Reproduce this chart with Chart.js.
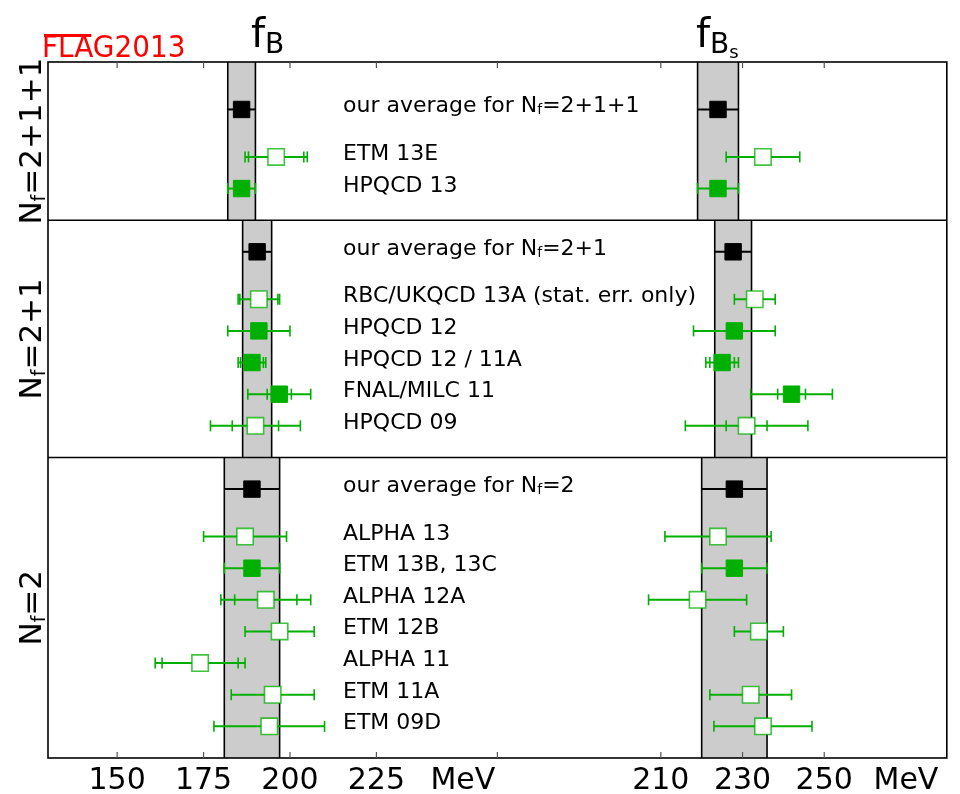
<!DOCTYPE html>
<html>
<head>
<meta charset="utf-8">
<script src="https://cdn.jsdelivr.net/npm/chart.js@4.4.1/dist/chart.umd.min.js"></script>
<style>
  html, body { margin: 0; padding: 0; background: #fff; }
  #wrap { width: 960px; height: 794px; }
</style>
</head>
<body>
<div id="wrap"><canvas id="flag" width="960" height="794"></canvas></div>
<script>
// one entry per row, top to bottom
const rowLabels = [
  "our average for N_f=2+1+1", "ETM 13E", "HPQCD 13",
  "our average for N_f=2+1", "RBC/UKQCD 13A (stat. err. only)", "HPQCD 12", "HPQCD 12 / 11A", "FNAL/MILC 11", "HPQCD 09",
  "our average for N_f=2", "ALPHA 13", "ETM 13B, 13C", "ALPHA 12A", "ETM 12B", "ALPHA 11", "ETM 11A", "ETM 09D"
];
const rowPos = [1.5, 3, 4, 6, 7.5, 8.5, 9.5, 10.5, 11.5, 13.5, 15, 16, 17, 18, 19, 20, 21];
const rowKind = ["avg", "open", "filled", "avg", "open", "filled", "filled", "filled", "open",
  "avg", "open", "filled", "open", "open", "open", "open", "open"];

// f_B in MeV: central value, inner (stat) and outer (total) error
const fB =      [186, 196, 186, 190.5, 191, 191, 189, 196.9, 190, 189, 187, 189, 193, 197, 174, 195, 194];
const fBStat =  [4,   8,   4,   4.2,   5.5, 9,   3.3, 3.5,   6.7, 8,   12,  8,   9,   10,  11,  12,  16];
const fBTotal = [4,   9,   4,   4.2,   6,   9,   4,   9.1,   13,  8,   12,  8,   13,  10,  13,  12,  16];

// f_Bs in MeV
const fBs =      [224, 235, 224, 227.7, 233, 228, 225, 242, 231, 228, 224, 228, 219, 234, null, 232, 235];
const fBsStat =  [5,   9,   5,   4.5,   5,   10,  3,   3.4, 5,   8,   13,  8,   12,  6,   null, 10,  12];
const fBsTotal = [5,   9,   5,   4.5,   5,   10,  4,   10,  15,  8,   13,  8,   12,  6,   null, 10,  12];

const sectionEdges = [0, 5, 12.5, 22];
const sectionNf = ["2+1+1", "2+1", "2"];

const fBTicks = [150, 175, 200, 225];
const fBsTicks = [210, 230, 250];
const fBRange = [130, 260];
const fBsRange = [170, 280];
const fBUnitAt = 250;
const fBsUnitAt = 270;

const GREEN = "#00b000";
const FONT = "DejaVu Sans";

const panels = [
  { axis: "xB", val: fB, stat: fBStat, tot: fBTotal },
  { axis: "xBs", val: fBs, stat: fBsStat, tot: fBsTotal },
];

function pointsFor(vals, kind) {
  const out = [];
  rowPos.forEach((p, i) => {
    if (rowKind[i] === kind && vals[i] != null) out.push({ x: vals[i], y: p });
  });
  return out;
}

function pointSet(axis, vals, kind) {
  const look = {
    avg: { bg: "#000", border: "#000", bw: 1 },
    filled: { bg: GREEN, border: GREEN, bw: 1 },
    open: { bg: "#fff", border: "rgba(0,176,0,0.75)", bw: 1.6 },
  }[kind];
  return {
    data: pointsFor(vals, kind),
    xAxisID: axis,
    yAxisID: "y",
    pointStyle: "rect",
    pointRadius: 11.6,
    pointBackgroundColor: look.bg,
    pointBorderColor: look.border,
    pointBorderWidth: look.bw,
  };
}

// text made of pieces {t, size, dy}, y is the main baseline
function richWidth(ctx, pieces, family) {
  let w = 0;
  pieces.forEach((p) => {
    ctx.font = p.size + "px '" + (p.family || family) + "'";
    w += ctx.measureText(p.t).width;
  });
  return w;
}
function drawRich(ctx, pieces, x, y, family) {
  ctx.textAlign = "left";
  ctx.textBaseline = "alphabetic";
  pieces.forEach((p) => {
    ctx.font = p.size + "px '" + (p.family || family) + "'";
    ctx.fillText(p.t, x, y + (p.dy || 0));
    x += ctx.measureText(p.t).width;
  });
}
function nfPieces(prefix, rest, size, subSize, subDy) {
  return [
    { t: prefix + "N", size: size },
    { t: "f", size: subSize, dy: subDy },
    { t: "=" + rest, size: size },
  ];
}

function sectionOf(pos) {
  for (let s = 0; s < sectionEdges.length - 1; s++) {
    if (pos > sectionEdges[s] && pos < sectionEdges[s + 1]) return s;
  }
  return 0;
}

function hline(ctx, x0, x1, y) {
  ctx.beginPath(); ctx.moveTo(x0, y); ctx.lineTo(x1, y); ctx.stroke();
}
function vline(ctx, x, y0, y1) {
  ctx.beginPath(); ctx.moveTo(x, y0); ctx.lineTo(x, y1); ctx.stroke();
}

const flagDecor = {
  id: "flagDecor",
  beforeDatasetsDraw(chart) {
    const { ctx, scales } = chart;
    const y = scales.y;
    ctx.save();
    // grey bands of the averages
    panels.forEach((p) => {
      const sx = scales[p.axis];
      rowKind.forEach((k, i) => {
        if (k !== "avg") return;
        const s = sectionOf(rowPos[i]);
        const x0 = sx.getPixelForValue(p.val[i] - p.tot[i]);
        const x1 = sx.getPixelForValue(p.val[i] + p.tot[i]);
        const y0 = y.getPixelForValue(sectionEdges[s]);
        const y1 = y.getPixelForValue(sectionEdges[s + 1]);
        ctx.fillStyle = "#cccccc";
        ctx.fillRect(x0, y0, x1 - x0, y1 - y0);
        ctx.strokeStyle = "#000";
        ctx.lineWidth = 1.6;
        vline(ctx, x0, y0, y1);
        vline(ctx, x1, y0, y1);
      });
    });
    // error bars
    panels.forEach((p) => {
      const sx = scales[p.axis];
      rowPos.forEach((pos, i) => {
        if (p.val[i] == null) return;
        const yy = y.getPixelForValue(pos);
        const v = p.val[i];
        const lo = sx.getPixelForValue(v - p.tot[i]);
        const hi = sx.getPixelForValue(v + p.tot[i]);
        if (rowKind[i] === "avg") {
          ctx.strokeStyle = "#000";
          ctx.lineWidth = 2;
          hline(ctx, lo, hi, yy);
          return;
        }
        ctx.strokeStyle = GREEN;
        ctx.lineWidth = 2;
        hline(ctx, lo, hi, yy);
        ctx.lineWidth = 1.6;
        vline(ctx, lo, yy - 5.5, yy + 5.5);
        vline(ctx, hi, yy - 5.5, yy + 5.5);
        if (Math.abs(p.tot[i] - p.stat[i]) > 0.2) {
          vline(ctx, sx.getPixelForValue(v - p.stat[i]), yy - 5.5, yy + 5.5);
          vline(ctx, sx.getPixelForValue(v + p.stat[i]), yy - 5.5, yy + 5.5);
        }
      });
    });
    ctx.restore();
  },
  afterDatasetsDraw(chart) {
    const { ctx, chartArea: a, scales } = chart;
    const y = scales.y;
    ctx.save();
    // frame and section lines
    ctx.strokeStyle = "#000";
    ctx.lineWidth = 1.6;
    ctx.strokeRect(a.left, a.top, a.right - a.left, a.bottom - a.top);
    sectionEdges.slice(1, -1).forEach((e) => hline(ctx, a.left, a.right, y.getPixelForValue(e)));

    // inner tick marks top and bottom
    ctx.strokeStyle = "#555";
    ctx.lineWidth = 1.2;
    const tickXs = [];
    fBTicks.forEach((v) => tickXs.push(scales.xB.getPixelForValue(v)));
    fBsTicks.forEach((v) => tickXs.push(scales.xBs.getPixelForValue(v)));
    tickXs.push(scales.xB.getPixelForValue(fBRange[1]));
    tickXs.forEach((x) => {
      vline(ctx, x, a.bottom, a.bottom - 6);
      vline(ctx, x, a.top, a.top + 6);
    });

    // row labels
    ctx.fillStyle = "#000";
    const textX = a.left + 295;
    rowLabels.forEach((lab, i) => {
      const base = y.getPixelForValue(rowPos[i]) + 3;
      if (lab.indexOf("N_f=") >= 0) {
        const parts = lab.split("N_f=");
        drawRich(ctx, nfPieces(parts[0], parts[1], 22, 14, 2), textX, base, FONT);
      } else {
        drawRich(ctx, [{ t: lab, size: 22 }], textX, base, FONT);
      }
    });

    // section labels, rotated
    sectionNf.forEach((nf, s) => {
      const cy = (y.getPixelForValue(sectionEdges[s]) + y.getPixelForValue(sectionEdges[s + 1])) / 2;
      const pieces = nfPieces("", nf, 31, 19, 4);
      const w = richWidth(ctx, pieces, FONT);
      ctx.save();
      ctx.translate(41, cy);
      ctx.rotate(-Math.PI / 2);
      drawRich(ctx, pieces, -w / 2, 0, FONT);
      ctx.restore();
    });

    // panel titles
    drawRich(ctx, [{ t: "f", size: 40 }, { t: "B", size: 28, dy: 6 }], 251, 47, FONT);
    drawRich(ctx, [{ t: "f", size: 40 }, { t: "B", size: 28, dy: 6 }, { t: "s", size: 18, dy: 11 }], 696, 47, FONT);

    // logo
    ctx.fillStyle = "#ff0000";
    const logoFont = "DejaVu Sans Condensed";
    drawRich(ctx, [{ t: "FLAG2013", size: 31 }], 42, 57, logoFont);
    ctx.font = "31px '" + logoFont + "'";
    const wFla = ctx.measureText("FLA").width;
    ctx.fillRect(44, 34, wFla - 4, 3);
    ctx.restore();
  },
};

function axisFor(range, ticks, unitAt) {
  return {
    type: "linear",
    axis: "x",
    position: "bottom",
    stack: "x",
    stackWeight: 1,
    min: range[0],
    max: range[1],
    grid: { display: false, drawTicks: false },
    border: { display: false },
    afterBuildTicks: (s) => {
      s.ticks = ticks.concat([unitAt]).map((v) => ({ value: v }));
    },
    afterFit: (s) => {
      s.height = 36;
      s.paddingLeft = 0;
      s.paddingRight = 0;
    },
    ticks: {
      autoSkip: false,
      maxRotation: 0,
      padding: 5,
      color: "#000",
      font: { family: FONT, size: 30 },
      callback: (v) => (v === unitAt ? "MeV" : String(v)),
    },
  };
}

new Chart(document.getElementById("flag").getContext("2d"), {
  type: "scatter",
  data: {
    datasets: [
      pointSet("xB", fB, "avg"), pointSet("xB", fB, "filled"), pointSet("xB", fB, "open"),
      pointSet("xBs", fBs, "avg"), pointSet("xBs", fBs, "filled"), pointSet("xBs", fBs, "open"),
    ],
  },
  options: {
    responsive: false,
    animation: false,
    events: [],
    layout: { padding: { left: 48, right: 13, top: 62, bottom: 0 } },
    plugins: { legend: { display: false }, tooltip: { enabled: false } },
    scales: {
      xB: axisFor(fBRange, fBTicks, fBUnitAt),
      xBs: axisFor(fBsRange, fBsTicks, fBsUnitAt),
      y: { type: "linear", reverse: true, min: sectionEdges[0], max: sectionEdges[sectionEdges.length - 1], display: false },
    },
  },
  plugins: [flagDecor],
});
</script>
</body>
</html>
